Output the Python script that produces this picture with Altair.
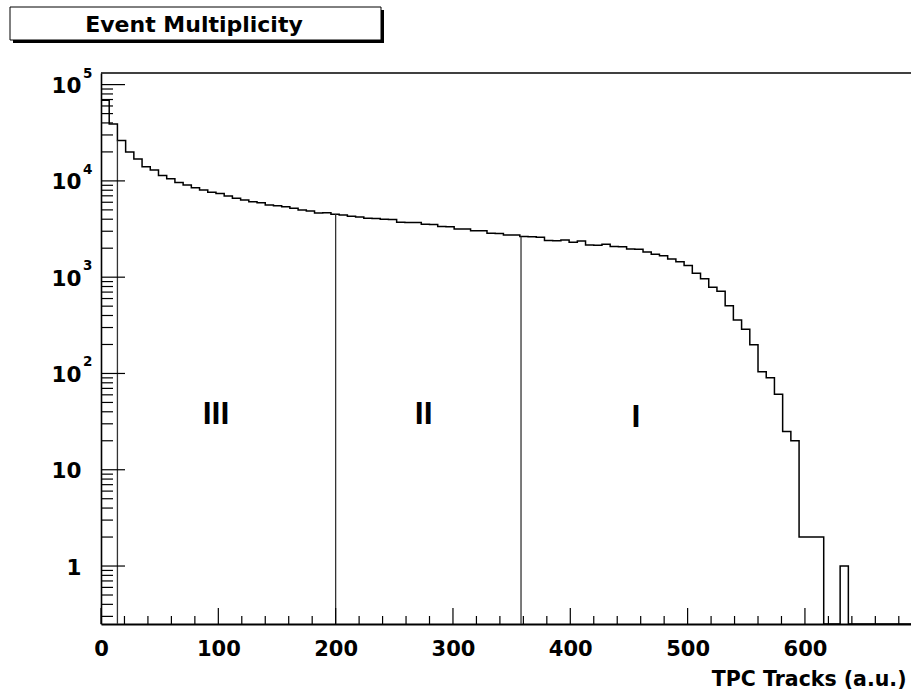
import altair as alt
import pandas as pd

# ---------------- data ----------------
BIN_WIDTH = 7
counts = [69000, 39000, 26200, 20000, 16900, 14060, 13000, 11400, 10550, 9630,
          9080, 8510, 8060, 7630, 7410, 6980, 6610, 6340, 6090, 5940,
          5630, 5530, 5400, 5200, 4990, 4870, 4650, 4680, 4500, 4430,
          4300, 4220, 4090, 4070, 4000, 3980, 3720, 3700, 3690, 3550,
          3530, 3350, 3340, 3170, 3160, 3040, 3030, 2860, 2850, 2750,
          2740, 2640, 2630, 2600, 2400, 2390, 2440, 2310, 2380, 2160,
          2150, 2200, 2080, 2070, 1960, 1950, 1830, 1730, 1670, 1540,
          1450, 1320, 1100, 966, 786, 714, 506, 359, 288, 199,
          104, 90, 61, 25, 20, 2, 2, 2, 0, 0,
          1, 0, 0, 0, 0, 0, 0, 0, 0, 0]

region_edges = [14, 200, 358]
region_names = ["III", "II", "I"]
region_label_x = [98, 275, 456]
region_label_y = [38, 38, 35]

x_major = [0, 100, 200, 300, 400, 500, 600]
x_minor = [v for v in range(20, 700, 20) if v % 100 != 0]
y_major = [1, 10, 100, 1000, 10000, 100000]
y_base_text = ["1", "10", "10", "10", "10", "10"]
y_exp_text = ["", "", "2", "3", "4", "5"]

X_MIN, X_MAX = 0, 690.4
Y_MIN, Y_MAX = 0.25, 132000
y_minor = [m * 10.0 ** e for e in range(-1, 5) for m in range(2, 10)
           if Y_MIN <= m * 10.0 ** e <= Y_MAX]

W, H = 810, 551
FONT = "DejaVu Sans"

# ---------------- tables ----------------
n = len(counts)
hist = pd.DataFrame({
    "x": [i * BIN_WIDTH for i in range(n + 1)],
    "y": [max(c, Y_MIN) for c in counts] + [max(counts[-1], Y_MIN)],
})
regions = pd.DataFrame({
    "x": region_edges,
    "y": [counts[int(e // BIN_WIDTH)] for e in region_edges],
    "y0": [Y_MIN] * len(region_edges),
})
numerals = pd.DataFrame({"x": region_label_x, "y": region_label_y, "t": region_names})
ymaj = pd.DataFrame({"y": y_major, "b": y_base_text, "e": y_exp_text})
ymin_df = pd.DataFrame({"y": y_minor})
xmaj = pd.DataFrame({"x": x_major})
xmin_df = pd.DataFrame({"x": x_minor})
one = pd.DataFrame({"a": [0]})

xscale = alt.Scale(domain=[X_MIN, X_MAX], nice=False, zero=False)
yscale = alt.Scale(type="log", domain=[Y_MIN, Y_MAX], nice=False)

X = alt.X("x:Q", scale=xscale,
          axis=alt.Axis(values=x_major, ticks=False, tickSize=0, grid=False,
                        domainColor="black", domainWidth=2,
                        labelFont=FONT, labelFontWeight="bold", labelFontSize=21,
                        labelColor="black", labelPadding=14, labelFlush=False,
                        labelOverlap=False, format="d",
                        title="TPC Tracks (a.u.)", titleFont=FONT,
                        titleFontWeight="bold", titleFontSize=20.5,
                        titleColor="black", titleAlign="right",
                        titleAnchor="end", titleBaseline="alphabetic",
                        titleX=805, titleY=61))
Y = alt.Y("y:Q", scale=yscale,
          axis=alt.Axis(ticks=False, labels=False, grid=False, domainColor="black",
                        domainWidth=1.6, title=None))

hist_layer = alt.Chart(hist).mark_line(
    interpolate="step-after", color="black", strokeWidth=1.5, clip=True
).encode(x=X, y=Y)

region_layer = alt.Chart(regions).mark_rule(color="#333333", strokeWidth=1.3).encode(
    x=X, y=Y, y2="y0:Q")

numeral_layer = alt.Chart(numerals).mark_text(
    font="Liberation Sans", fontWeight="bold", fontSize=32, color="black",
    baseline="middle", align="center").encode(x=X, y=Y, text="t:N")

ytick_major = alt.Chart(ymaj).mark_rule(color="black", strokeWidth=1.2).encode(
    y=Y, x=alt.value(0), x2=alt.value(24))
ytick_minor = alt.Chart(ymin_df).mark_rule(color="black", strokeWidth=1.2).encode(
    y=Y, x=alt.value(0), x2=alt.value(12))
xtick_major = alt.Chart(xmaj).mark_rule(color="black", strokeWidth=1.2).encode(
    x=X, y=alt.value(H), y2=alt.value(H - 16))
xtick_minor = alt.Chart(xmin_df).mark_rule(color="black", strokeWidth=1.2).encode(
    x=X, y=alt.value(H), y2=alt.value(H - 8))

ylab_base = alt.Chart(ymaj).mark_text(
    font=FONT, fontWeight="bold", fontSize=21.5, color="black",
    align="right", baseline="middle", dy=2.5).encode(
    y=Y, x=alt.value(-19.5), text="b:N")
ylab_exp = alt.Chart(ymaj).mark_text(
    font=FONT, fontWeight="bold", fontSize=13.5, color="black",
    align="left", baseline="middle", dy=-11).encode(
    y=Y, x=alt.value(-18), text="e:N")

top_border = alt.Chart(one).mark_rule(color="black", strokeWidth=1.5).encode(
    x=alt.value(0), x2=alt.value(W), y=alt.value(0))

title_shadow = alt.Chart(one).mark_rect(color="black").encode(
    x=alt.value(-88), x2=alt.value(283), y=alt.value(-63), y2=alt.value(-30))
title_box = alt.Chart(one).mark_rect(fill="white", stroke="black", strokeWidth=1).encode(
    x=alt.value(-91), x2=alt.value(280), y=alt.value(-66), y2=alt.value(-33))
title_text = alt.Chart(one).mark_text(
    font=FONT, fontWeight="bold", fontSize=22, color="black",
    align="center", baseline="middle").encode(
    x=alt.value(93), y=alt.value(-48), text=alt.value("Event Multiplicity"))

chart = alt.layer(
    hist_layer, region_layer, numeral_layer,
    ytick_major, ytick_minor, xtick_major, xtick_minor,
    ylab_base, ylab_exp, top_border,
    title_shadow, title_box, title_text,
).properties(
    width=W, height=H,
    autosize=alt.AutoSizeParams(type="none"),
    padding={"left": 101, "top": 73, "right": 0, "bottom": 66},
    background="white",
).configure_view(stroke=None)

chart.save("out.html", embed_options={"renderer": "svg", "actions": False})
